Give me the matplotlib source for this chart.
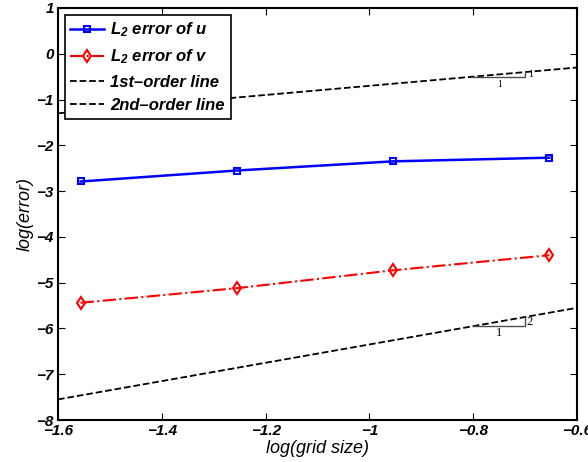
import numpy as np
import matplotlib
matplotlib.use('Agg')
import matplotlib.pyplot as plt

plt.rcParams['font.family'] = ['Liberation Sans', 'DejaVu Sans']
plt.rcParams['font.weight'] = 'bold'
plt.rcParams['font.style'] = 'italic'
plt.rcParams['mathtext.fontset'] = 'custom'
plt.rcParams['mathtext.rm'] = 'Liberation Sans:bold:italic'
plt.rcParams['mathtext.it'] = 'Liberation Sans:bold:italic'
plt.rcParams['mathtext.default'] = 'rm'

# data
grid_size = [1/36, 1/18, 1/9, 2/9]
log_h = np.log10(grid_size)
err_u = [-2.79, -2.55, -2.35, -2.27]
err_v = [-5.44, -5.12, -4.73, -4.40]

ref_x = [-1.6, -0.6]
first_order = [-1.3, -0.3]
second_order = [-7.55, -5.55]

xticks = [-1.6, -1.4, -1.2, -1, -0.8, -0.6]
xtick_labels = ['\u22121.6', '\u22121.4', '\u22121.2', '\u22121', '\u22120.8', '\u22120.6']
yticks = [-8, -7, -6, -5, -4, -3, -2, -1, 0, 1]
ytick_labels = ['\u22128', '\u22127', '\u22126', '\u22125', '\u22124', '\u22123', '\u22122', '\u22121', '0', '1']

fig = plt.figure(figsize=(5.88, 4.62), dpi=100)
ax = fig.add_axes([0.0986, 0.0909, 0.8827, 0.8918])

ax.plot(log_h, err_u, '-s', color='b', lw=1.8, ms=5, mfc='none', mew=1.5,
        label='$L_2$ error of u')
ax.plot(log_h, err_v, '-.d', color='r', lw=1.5, ms=6, mfc='none', mew=1.5,
        label='$L_2$ error of v')
ax.plot(ref_x, first_order, '--', color='k', lw=1.3, label='1st\u2013order line')
ax.plot(ref_x, second_order, '--', color='k', lw=1.3, label='2nd\u2013order line')

# slope triangles
s1 = np.interp(-0.8, ref_x, first_order)
ax.plot([-0.8, -0.7, -0.7], [s1, s1, s1 + 0.1], color='0.3', lw=1)
ax.text(-0.75, s1 - 0.08, '1', family='Liberation Serif', style='normal',
        weight='normal', fontsize=7, ha='center', va='top')
ax.text(-0.695, s1 + 0.05, '1', family='Liberation Serif', style='normal',
        weight='normal', fontsize=7, ha='left', va='center')
s2 = np.interp(-0.8, ref_x, second_order)
ax.plot([-0.8, -0.7, -0.7], [s2, s2, s2 + 0.2], color='0.3', lw=1)
ax.text(-0.75, s2 - 0.02, '1', family='Liberation Serif', style='normal',
        weight='normal', fontsize=9, ha='center', va='top')
ax.text(-0.697, s2 + 0.1, '2', family='Liberation Serif', style='normal',
        weight='normal', fontsize=9, ha='left', va='center')

ax.set_xlim(-1.6, -0.6)
ax.set_ylim(-8, 1)
ax.set_xticks(xticks)
ax.set_xticklabels(xtick_labels)
ax.set_yticks(yticks)
ax.set_yticklabels(ytick_labels)
ax.tick_params(direction='in', top=True, right=True, labelsize=11, length=5, pad=3)
for sp in ax.spines.values():
    sp.set_linewidth(1.5)

ax.set_xlabel('log(grid size)', fontsize=13, labelpad=1)
ax.set_ylabel('log(error)', fontsize=13, labelpad=2)

leg = ax.legend(loc='upper left', fontsize=12, frameon=True, fancybox=False,
                edgecolor='k', framealpha=1, borderpad=0.35, labelspacing=0.5,
                handlelength=2.0, handletextpad=0.4, borderaxespad=0.4)
leg.get_frame().set_linewidth(1.2)

fig.savefig('out.png', dpi=100)
